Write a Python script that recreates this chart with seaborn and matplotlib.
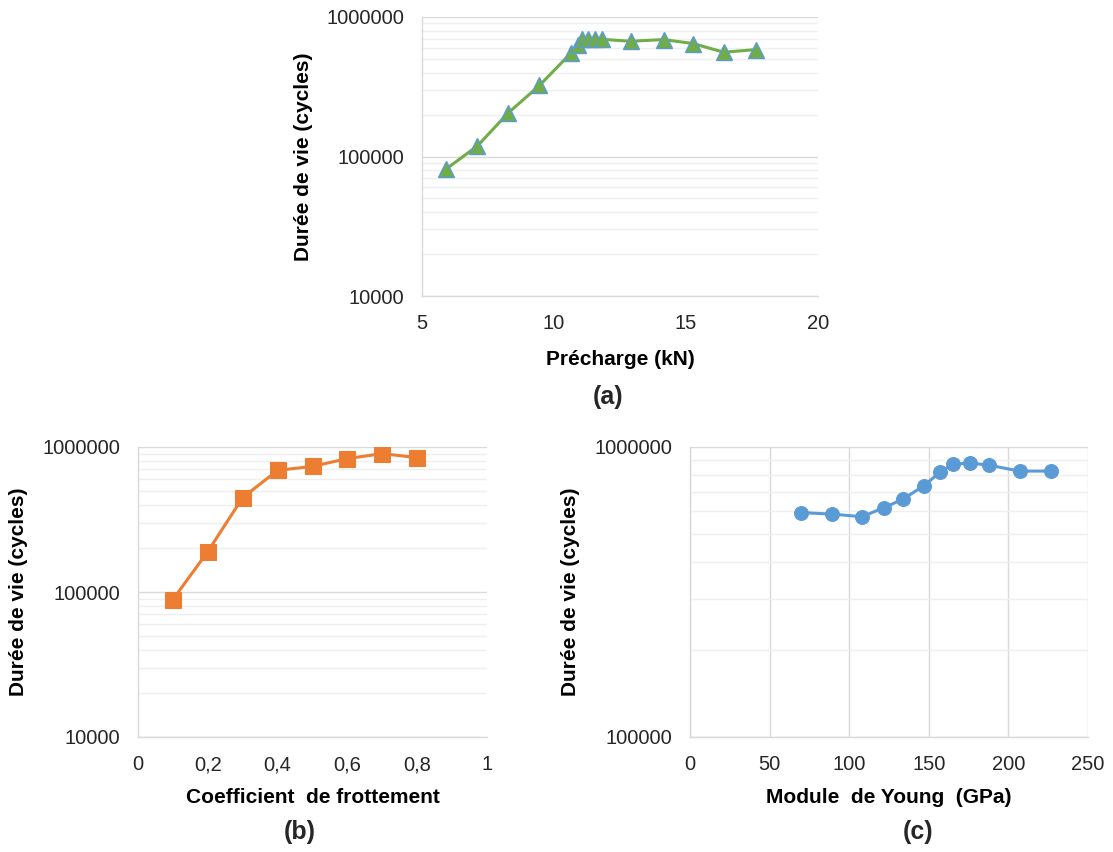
import numpy as np
import seaborn as sns
import matplotlib.pyplot as plt
from matplotlib.ticker import FixedLocator, FuncFormatter, LogLocator, NullFormatter

# data
precharge_kn = [5.9, 7.1, 8.25, 9.45, 10.65, 10.9, 11.07, 11.3, 11.55, 11.8, 12.9, 14.15, 15.27, 16.43, 17.65]
life_precharge = [81000, 119000, 204000, 323000, 553000, 634000, 692000, 700000, 692000, 692000,
                  670000, 689000, 645000, 559000, 584000]

friction_coef = [0.1, 0.2, 0.3, 0.4, 0.5, 0.6, 0.7, 0.8]
life_friction = [88700, 190000, 448000, 690000, 735000, 832000, 900000, 845000]

young_gpa = [70, 89, 108, 122, 134, 147, 157, 165, 176, 188, 207, 227]
life_young = [594000, 587000, 575000, 618000, 662000, 736000, 818000, 871000, 881000, 865000, 826000, 826000]

ylabel = "Durée de vie (cycles)"
xlabels = ["Précharge (kN)", "Coefficient  de frottement", "Module  de Young  (GPa)"]
panel_tags = ["(a)", "(b)", "(c)"]

sns.set_style("white")
plt.rcParams['font.family'] = ['Liberation Sans', 'DejaVu Sans']

W, H = 1113, 852
fig = plt.figure(figsize=(W / 100, H / 100), dpi=100)


def px_axes(left, top, right, bottom):
    return fig.add_axes([left / W, 1 - bottom / H, (right - left) / W, (bottom - top) / H])


ax_a = px_axes(422, 17, 818, 296)
ax_b = px_axes(138, 447, 487, 737)
ax_c = px_axes(690, 447, 1088, 737)

GRID_MAJ = "#d9d9d9"
GRID_MIN = "#efefef"
TICK_COL = "#262626"

# (a) precharge
sns.lineplot(x=precharge_kn, y=life_precharge, ax=ax_a, color="#70ad47", linewidth=2.2,
             marker="^", markersize=12, markerfacecolor="#70ad47", markeredgecolor="#5b9bd5",
             markeredgewidth=1.0)
# (b) friction
sns.lineplot(x=friction_coef, y=life_friction, ax=ax_b, color="#ed7d31", linewidth=2.2,
             marker="s", markersize=11, markerfacecolor="#ed7d31", markeredgecolor="#ed7d31")
# (c) Young modulus
sns.lineplot(x=young_gpa, y=life_young, ax=ax_c, color="#5b9bd5", linewidth=2.2,
             marker="o", markersize=10, markerfacecolor="#5b9bd5", markeredgecolor="#5b9bd5")

for ax in (ax_a, ax_b, ax_c):
    ax.set_yscale("log")
    ax.yaxis.set_major_locator(LogLocator(base=10))
    ax.yaxis.set_minor_locator(LogLocator(base=10, subs=np.arange(2, 10)))
    ax.yaxis.set_major_formatter(FuncFormatter(lambda v, p: f"{int(round(v))}"))
    ax.yaxis.set_minor_formatter(NullFormatter())
    ax.grid(which="major", axis="y", color=GRID_MAJ, linewidth=1.0)
    ax.grid(which="minor", axis="y", color=GRID_MIN, linewidth=1.0)
    ax.set_axisbelow(True)
    for s in ("top", "right"):
        ax.spines[s].set_visible(False)
    for s in ("left", "bottom"):
        ax.spines[s].set_color(GRID_MAJ)
        ax.spines[s].set_linewidth(1.0)
    ax.tick_params(which="both", length=0, pad=13, labelsize=14.5, colors=TICK_COL)
    ax.set_ylabel(ylabel, fontsize=15, fontweight="bold", color="black")

ax_a.set_ylim(10000, 1000000)
ax_a.set_xlim(5, 20)
ax_a.xaxis.set_major_locator(FixedLocator([5, 10, 15, 20]))

ax_b.set_ylim(10000, 1000000)
ax_b.set_xlim(0, 1)
ax_b.xaxis.set_major_locator(FixedLocator([0, 0.2, 0.4, 0.6, 0.8, 1.0]))
ax_b.xaxis.set_major_formatter(FuncFormatter(lambda v, p: f"{v:g}".replace(".", ",")))

ax_c.set_ylim(100000, 1000000)
ax_c.set_xlim(0, 250)
ax_c.xaxis.set_major_locator(FixedLocator([0, 50, 100, 150, 200, 250]))
ax_c.grid(which="major", axis="x", color=GRID_MAJ, linewidth=1.0)

ax_a.set_xlabel(xlabels[0], fontsize=15, fontweight="bold", color="black")
ax_b.set_xlabel(xlabels[1], fontsize=15, fontweight="bold", color="black")
ax_c.set_xlabel(xlabels[2], fontsize=15, fontweight="bold", color="black")

ax_a.yaxis.set_label_coords(-0.275, 0.5)
ax_b.yaxis.set_label_coords(-0.315, 0.5)
ax_c.yaxis.set_label_coords(-0.276, 0.5)
ax_a.xaxis.set_label_coords(0.5, -0.194)
ax_b.xaxis.set_label_coords(0.5, -0.176)
ax_c.xaxis.set_label_coords(0.5, -0.176)

for tag, (xp, yp) in zip(panel_tags, [(608, 397), (300, 832), (918, 832)]):
    fig.text(xp / W, 1 - yp / H, tag, ha="center", va="center", fontsize=18, fontweight="bold")

fig.savefig("out.png", dpi=100, facecolor="white")
